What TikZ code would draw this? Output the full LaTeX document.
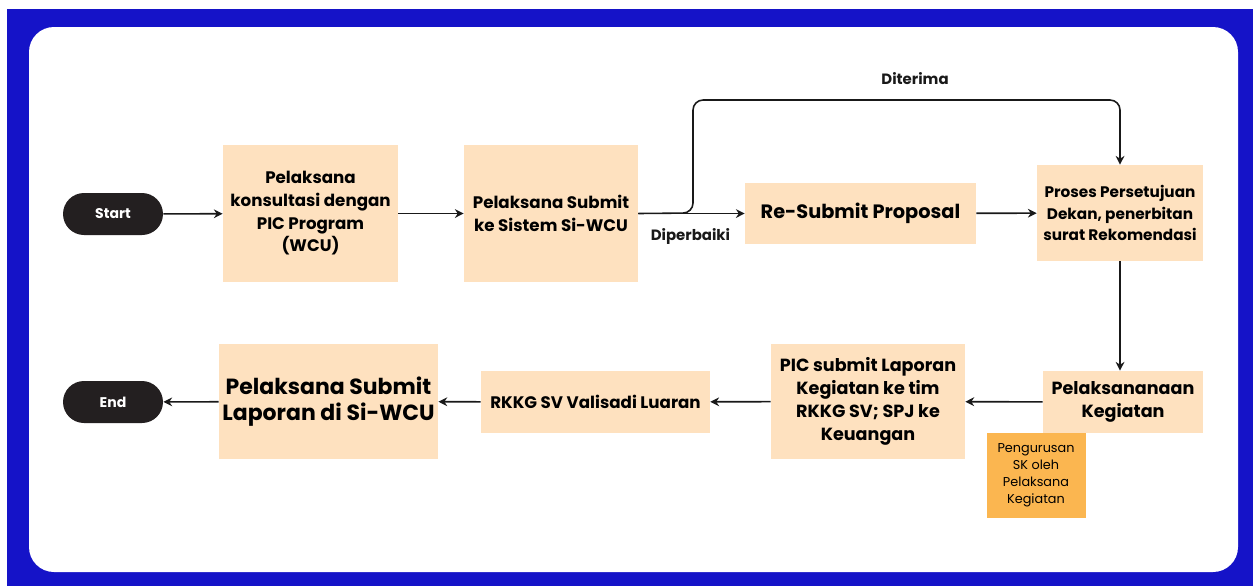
\documentclass[tikz,border=0pt]{standalone}
\usepackage{fontspec}
\setmainfont{Poppins}
\usetikzlibrary{arrows.meta,positioning}
\definecolor{frameblue}{RGB}{21,19,200}
\definecolor{peach}{RGB}{254,225,191}
\definecolor{noteorange}{RGB}{251,182,80}
\definecolor{pill}{RGB}{35,31,32}

\begin{document}
\begin{tikzpicture}
    [x=0.02cm, y=-0.02cm,
    stepbox/.style={fill=peach, align=center, inner sep=2pt, font=\bfseries\fontsize{9.5}{12.9}\selectfont},
    pillbox/.style={fill=pill, text=white, rounded corners=0.42cm, minimum width=2cm, minimum height=0.84cm, font=\bfseries\fontsize{8}{10}\selectfont},
    notebox/.style={fill=noteorange, align=center, minimum width=1.98cm, minimum height=1.7cm, font=\fontsize{7.3}{9.6}\selectfont},
    flow/.style={-{Stealth[length=5pt,width=5pt]}, line width=0.9pt, black!90},
    lbl/.style={font=\bfseries\fontsize{8.5}{10}\selectfont}]
    % frame
    \fill[frameblue] (7,9) rectangle (1253,586);
    \fill[white, rounded corners=0.5cm] (29,27) rectangle (1238,572);

    % upper row
    \node[pillbox] (start) at (113,214) {Start};
    \node[stepbox, minimum width=3.5cm, minimum height=2.74cm] (konsul) at (310.5,213.5)
        {Pelaksana\\konsultasi dengan\\PIC Program\\(WCU)};
    \node[stepbox, minimum width=3.48cm, minimum height=2.74cm] (submit) at (551,213.5)
        {Pelaksana Submit\\ke Sistem Si-WCU};
    \node[stepbox, minimum width=4.62cm, minimum height=1.22cm, font=\bfseries\fontsize{11}{14}\selectfont] (resubmit) at (860.5,213.5)
        {Re-Submit Proposal};
    \node[stepbox, minimum width=3.32cm, minimum height=1.92cm, font=\bfseries\fontsize{8.7}{12}\selectfont] (dekan) at (1120,213)
        {Proses Persetujuan\\Dekan, penerbitan\\surat Rekomendasi};

    % lower row
    \node[stepbox, minimum width=3.2cm, minimum height=1.24cm, font=\bfseries\fontsize{10}{13}\selectfont] (kegiatan) at (1123,402)
        {Pelaksananaan\\Kegiatan};
    \node[stepbox, minimum width=3.88cm, minimum height=2.3cm, font=\bfseries\fontsize{10}{13.2}\selectfont] (laporan) at (868,401.5)
        {PIC submit Laporan\\Kegiatan ke tim\\RKKG SV; SPJ ke\\Keuangan};
    \node[stepbox, minimum width=4.58cm, minimum height=1.24cm] (luaran) at (595.5,402)
        {RKKG SV Valisadi Luaran};
    \node[stepbox, minimum width=4.3cm, minimum height=2.3cm, font=\bfseries\fontsize{12.5}{14.8}\selectfont] (siwcu) at (328.5,401.5)
        {Pelaksana Submit\\Laporan di Si-WCU};
    \node[pillbox] (end) at (113,402) {End};
    \node[notebox] (sk) at (1036,475.5) {Pengurusan\\SK oleh\\Pelaksana\\Kegiatan};

    % connectors
    \coordinate (split) at (693,213);
    \coordinate (top) at (693,100);
    \draw[flow] (start) -- (konsul);
    \draw[flow] (konsul) -- (submit);
    \draw[flow] (submit) -- (resubmit) node[lbl, pos=0.49, below=5pt] {Diperbaiki};
    \draw[flow, rounded corners=0.2cm] (submit.east) -- (split) -- (top) -| (dekan.north)
        node[lbl, pos=0.26, above=5pt] {Diterima};
    \draw[flow] (resubmit) -- (dekan);
    \draw[flow] (dekan.south) -- (dekan.south |- kegiatan.north);
    \draw[flow] (kegiatan) -- (laporan);
    \draw[flow] (laporan) -- (luaran);
    \draw[flow] (luaran) -- (siwcu);
    \draw[flow] (siwcu) -- (end);

    \pgfresetboundingbox
    \useasboundingbox (0,0) rectangle (1253,586);
\end{tikzpicture}
\end{document}
